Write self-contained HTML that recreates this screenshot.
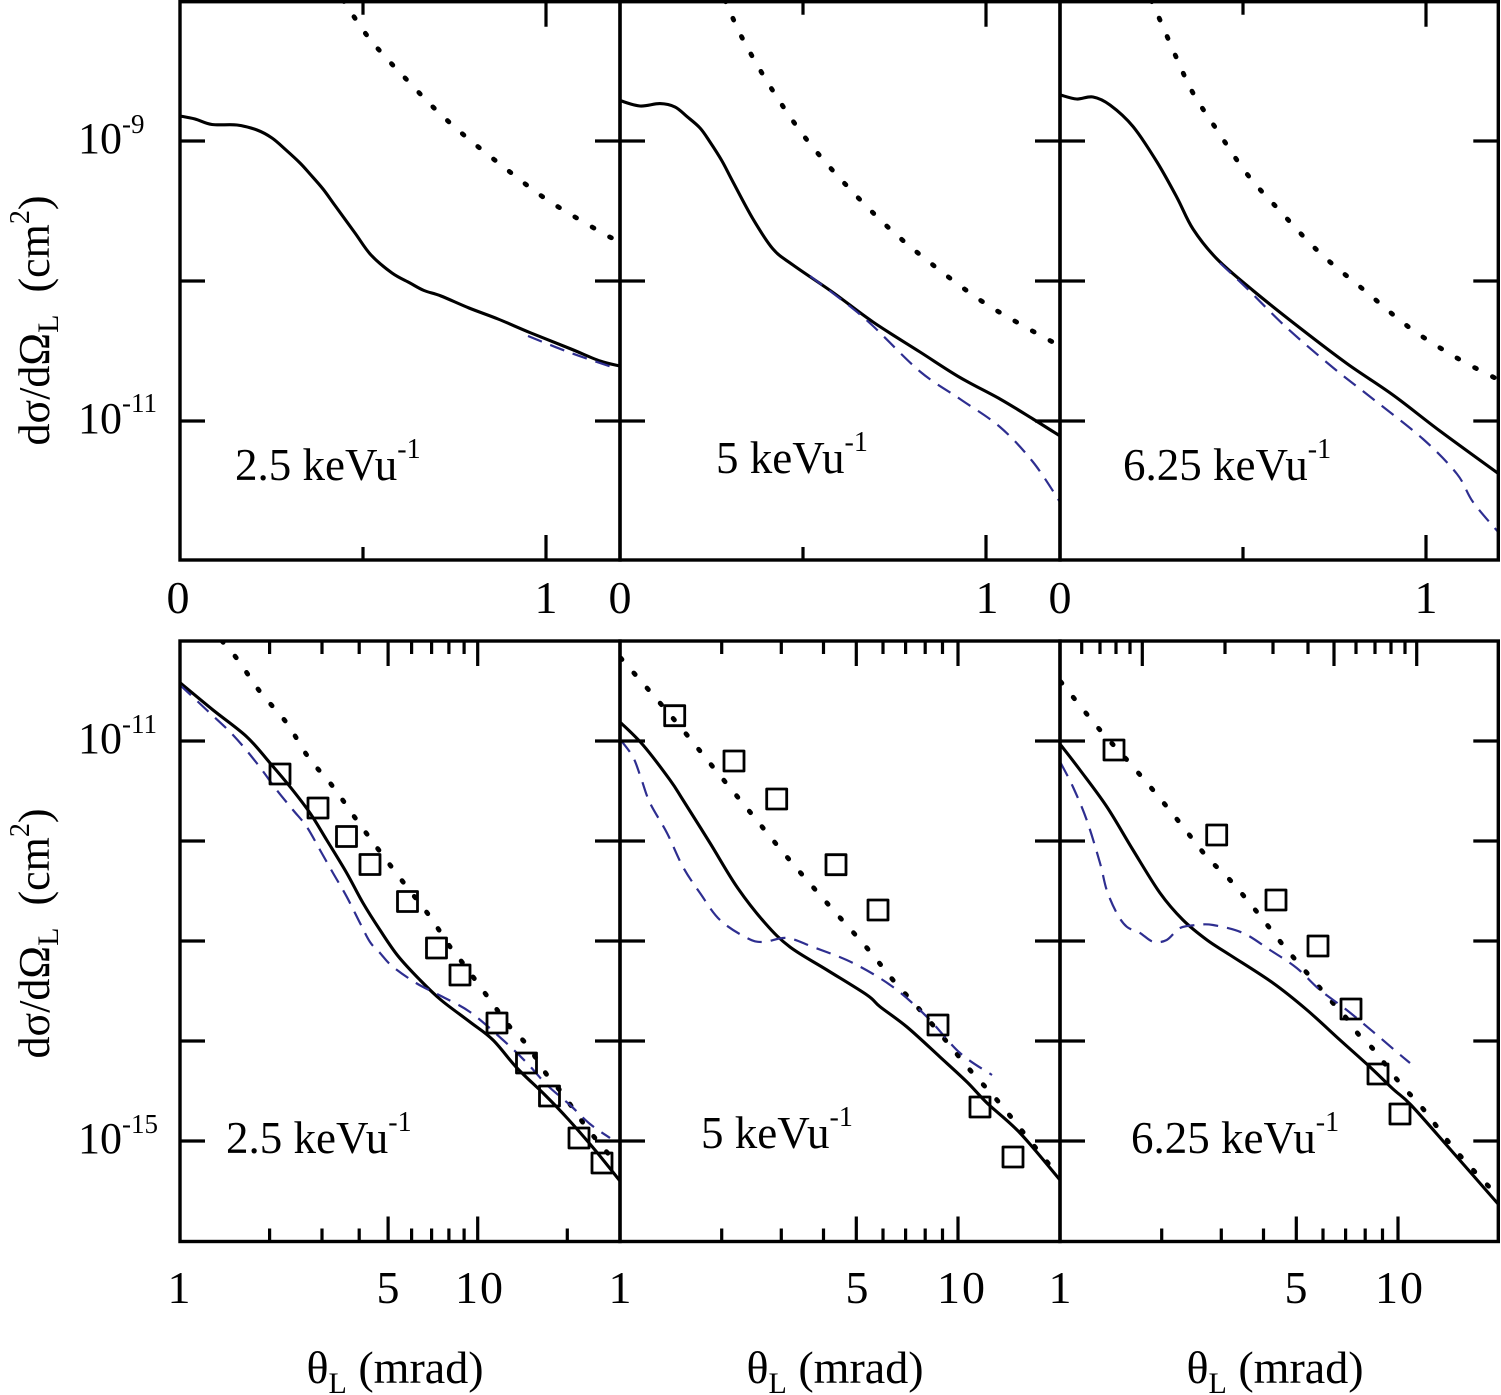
<!DOCTYPE html>
<html>
<head>
<meta charset="utf-8">
<style>
html,body{margin:0;padding:0;background:#fff;}
svg{display:block;}
text{font-family:"Liberation Serif","Times New Roman",serif;fill:#000;}
</style>
</head>
<body>
<svg width="1501" height="1395" viewBox="0 0 1501 1395" xmlns="http://www.w3.org/2000/svg" font-family="'Liberation Serif', 'Times New Roman', serif">
<defs>
<clipPath id="t1"><rect x="180" y="1.5" width="440" height="558.5"/></clipPath>
<clipPath id="t2"><rect x="620" y="1.5" width="440" height="558.5"/></clipPath>
<clipPath id="t3"><rect x="1060" y="1.5" width="438.5" height="558.5"/></clipPath>
<clipPath id="b1"><rect x="180" y="641" width="440" height="600.5"/></clipPath>
<clipPath id="b2"><rect x="620" y="641" width="440" height="600.5"/></clipPath>
<clipPath id="b3"><rect x="1060" y="641" width="438.5" height="600.5"/></clipPath>
</defs>

<!-- ============ CURVES TOP ROW ============ -->
<g fill="none" stroke-linejoin="round">
<g clip-path="url(#t1)">
<path class="sm" d="M180,116 L195,119 L212,124.5 L237,125 L257,130 L272,138 L286,150 L300,163 L310,174 L323,189 L335,205.5 L355,233 L371,255 L392,273 L410,283 L424,290.5 L441,296 L469,308 L498,319 L531,333 L571,349 L600,361 L620,366" stroke="#000" stroke-width="3.1"/>
<path class="sm" d="M343,0 L367,35.5 L390,62 L408,81 L433,107 L465,136 L510,172 L543,197 L575,217 L608,236 L619,241" stroke="#000" stroke-width="4.8" stroke-dasharray="2 18" stroke-linecap="round"/>
<path class="sm" d="M528,336 L571,353 L618,369" stroke="#2e2e90" stroke-width="2.2" stroke-dasharray="15 9"/>
</g>
<g clip-path="url(#t2)">
<path class="sm" d="M620.7,100.8 L640,106 L660,103.6 L675,107 L687,116.6 L700,128 L710,142 L722,161 L733,182 L753,219 L773,249 L793,265 L833,292.5 L873,322 L920,352 L960,377.5 L1000,399 L1033,419 L1060,436" stroke="#000" stroke-width="3.1"/>
<path class="sm" d="M725,0 L743,39.5 L773,91 L807,140 L847,186 L890,229 L933,265 L980,300 L1020,324 L1060,346" stroke="#000" stroke-width="4.8" stroke-dasharray="2 18" stroke-linecap="round"/>
<path class="sm" d="M810,276 L847,304 L873,326 L920,371.5 L960,399 L1000,427 L1033,462 L1060,502" stroke="#2e2e90" stroke-width="2.2" stroke-dasharray="15 9"/>
</g>
<g clip-path="url(#t3)">
<path class="sm" d="M1060.7,95 L1076.7,99 L1093,97 L1110,105 L1133,126.5 L1157,162 L1177,197.6 L1193,229 L1217,259 L1253,290.5 L1300,328 L1347,363.6 L1393,395 L1440,431 L1499,474" stroke="#000" stroke-width="3.1"/>
<path class="sm" d="M1151,0 L1160,20 L1177,59 L1193,93 L1217,130 L1247,174 L1280,211 L1320,253 L1367,292.5 L1410,328 L1457,358 L1499,380" stroke="#000" stroke-width="4.8" stroke-dasharray="2 18" stroke-linecap="round"/>
<path class="sm" d="M1220,263 L1247,288.5 L1287,328 L1333,367.6 L1373,399 L1423,439 L1457,474 L1473,502 L1499,533" stroke="#2e2e90" stroke-width="2.2" stroke-dasharray="15 9"/>
</g>

<!-- ============ CURVES BOTTOM ROW ============ -->
<g clip-path="url(#b1)">
<path class="sm" d="M180,682.7 L213,710 L246.7,736.7 L270,763 L290,786.7 L310,813 L326.7,840 L346.7,873 L363,903 L380,930 L398,956 L420,980 L441,1000 L470,1022 L493,1040 L517,1068 L545,1095 L568,1119 L595,1150 L620,1181" stroke="#000" stroke-width="3.1"/>
<path class="sm" d="M222,641 L238,660 L260,691.7 L286.7,723 L308,756.7 L333,786.7 L356.7,820 L380,851.7 L406.7,886.7 L430,916.7 L450,946.7 L465,966 L490,1000 L510,1027 L527,1045 L547,1075 L562,1093 L584,1124 L605,1150 L620,1166" stroke="#000" stroke-width="4.8" stroke-dasharray="2 18" stroke-linecap="round"/>
<path class="sm" d="M180,685 L206.7,710 L233,735 L256.7,763 L276.7,790 L293,810 L306.7,826.7 L320,850 L333,873 L346.7,896.7 L360,923 L370,942 L380,953 L392,966 L416,983 L441,996 L470,1012 L503,1040 L527,1063 L547,1085 L570,1105 L590,1124 L610,1138" stroke="#2e2e90" stroke-width="2.2" stroke-dasharray="15 9"/>
<g stroke="#000" stroke-width="2.8">
<rect x="270" y="764" width="20" height="20"/>
<rect x="308" y="798" width="20" height="20"/>
<rect x="336.5" y="826.5" width="20" height="20"/>
<rect x="360" y="854.5" width="20" height="20"/>
<rect x="397.5" y="891.5" width="20" height="20"/>
<rect x="426.5" y="938" width="20" height="20"/>
<rect x="450" y="965" width="20" height="20"/>
<rect x="487" y="1013" width="20" height="20"/>
<rect x="516.5" y="1053" width="20" height="20"/>
<rect x="539.5" y="1086" width="20" height="20"/>
<rect x="569" y="1128" width="20" height="20"/>
<rect x="592" y="1153" width="20" height="20"/>
</g>
</g>
<g clip-path="url(#b2)">
<path class="sm" d="M620.7,722.7 L643,745 L670,780 L683,800 L710,843 L737,887 L765,923 L790,947 L827,970 L867,995 L880,1006.7 L907,1027 L940,1057 L967,1082 L987,1103 L1020,1133 L1060,1180" stroke="#000" stroke-width="3.1"/>
<path class="sm" d="M620.7,658 L633,672 L660,703 L687,735 L713,767 L750,812 L787,857 L827,903 L867,948 L893,980 L920,1010 L947,1042 L970,1070 L997,1100 L1023,1132 L1048,1163 L1060,1175" stroke="#000" stroke-width="4.8" stroke-dasharray="2 18" stroke-linecap="round"/>
<path class="sm" d="M620.7,740 L633,757 L641,778 L650,803 L667,833 L683,867 L700,893 L720,920 L747,938 L763,942 L787,938 L813,947 L853,963 L893,987 L927,1017 L960,1053 L992,1075" stroke="#2e2e90" stroke-width="2.2" stroke-dasharray="15 9"/>
<g stroke="#000" stroke-width="2.8">
<rect x="664.7" y="705.7" width="20" height="20"/>
<rect x="724" y="751" width="20" height="20"/>
<rect x="766.7" y="789" width="20" height="20"/>
<rect x="826" y="854.7" width="20" height="20"/>
<rect x="868" y="900" width="20" height="20"/>
<rect x="928" y="1015" width="20" height="20"/>
<rect x="970" y="1097" width="20" height="20"/>
<rect x="1003" y="1147" width="20" height="20"/>
</g>
</g>
<g clip-path="url(#b3)">
<path class="sm" d="M1060.7,745 L1080,770 L1107,807 L1133,850 L1160,893 L1183,920 L1207,940 L1230,955 L1273,983 L1307,1010 L1340,1040 L1370,1067 L1393,1089 L1411,1105 L1450,1149 L1499,1205" stroke="#000" stroke-width="3.1"/>
<path class="sm" d="M1060.7,681.7 L1073,697 L1100,730 L1127,760 L1153,790 L1180,823 L1207,857 L1230,880 L1257,912 L1283,945 L1307,973 L1333,1003 L1348,1020 L1359,1035 L1374,1050 L1399,1082 L1424,1110 L1451,1145 L1476,1173 L1499,1197" stroke="#000" stroke-width="4.8" stroke-dasharray="2 18" stroke-linecap="round"/>
<path class="sm" d="M1060.7,763 L1073,787 L1086.7,820 L1100,863 L1106.7,890 L1116.7,913 L1126.7,926.7 L1140,933 L1153,941.7 L1166.7,940 L1180,928 L1196.7,925 L1213,925 L1243,933 L1270,950 L1296.7,968 L1320,990 L1346.7,1010 L1373,1031.7 L1398,1053 L1410,1063" stroke="#2e2e90" stroke-width="2.2" stroke-dasharray="15 9"/>
<g stroke="#000" stroke-width="2.8">
<rect x="1104" y="740" width="20" height="20"/>
<rect x="1206.7" y="825" width="20" height="20"/>
<rect x="1266" y="890" width="20" height="20"/>
<rect x="1308" y="936" width="20" height="20"/>
<rect x="1341" y="999" width="20" height="20"/>
<rect x="1368" y="1064" width="20" height="20"/>
<rect x="1390" y="1104" width="20" height="20"/>
</g>
</g>
</g>

<!-- ============ FRAMES ============ -->
<g fill="none" stroke="#000" stroke-width="3.4">
<rect x="180" y="1.7" width="440" height="558.3"/>
<rect x="620" y="1.7" width="440" height="558.3"/>
<rect x="1060" y="1.7" width="438.3" height="558.3"/>
<rect x="180" y="641" width="440" height="600.5"/>
<rect x="620" y="641" width="440" height="600.5"/>
<rect x="1060" y="641" width="438.3" height="600.5"/>
</g>

<!-- ============ TICKS ============ -->
<g fill="none" stroke="#000" stroke-width="3.2">
<path d="M180,141 h25 M180,281 h25 M180,421 h25 M620,141 h-25 M620,281 h-25 M620,421 h-25
M620,141 h25 M620,281 h25 M620,421 h25 M1060,141 h-25 M1060,281 h-25 M1060,421 h-25
M1060,141 h25 M1060,281 h25 M1060,421 h25 M1498.3,141 h-25 M1498.3,281 h-25 M1498.3,421 h-25"/>
<path d="M363,560 v-13 M546,560 v-25 M363,1.7 v13 M546,1.7 v25
M803,560 v-13 M986,560 v-25 M803,1.7 v13 M986,1.7 v25
M1243,560 v-13 M1426,560 v-25 M1243,1.7 v13 M1426,1.7 v25"/>
<path d="M180,741 h25 M180,841 h25 M180,941 h25 M180,1041 h25 M180,1141 h25
M620,741 h-25 M620,841 h-25 M620,941 h-25 M620,1041 h-25 M620,1141 h-25
M620,741 h25 M620,841 h25 M620,941 h25 M620,1041 h25 M620,1141 h25
M1060,741 h-25 M1060,841 h-25 M1060,941 h-25 M1060,1041 h-25 M1060,1141 h-25
M1060,741 h25 M1060,841 h25 M1060,941 h25 M1060,1041 h25 M1060,1141 h25
M1498.3,741 h-25 M1498.3,841 h-25 M1498.3,941 h-25 M1498.3,1041 h-25 M1498.3,1141 h-25"/>
<path d="M269.6,1241.5 v-13 M322,1241.5 v-13 M359.2,1241.5 v-13 M388.1,1241.5 v-25 M411.6,1241.5 v-13 M431.6,1241.5 v-13 M448.9,1241.5 v-13 M464.1,1241.5 v-13 M477.7,1241.5 v-25 M567.3,1241.5 v-13
M269.6,641 v13 M322,641 v13 M359.2,641 v13 M388.1,641 v25 M411.6,641 v13 M431.6,641 v13 M448.9,641 v13 M464.1,641 v13 M477.7,641 v25"/>
<path d="M721.7,1241.5 v-13 M781.3,1241.5 v-13 M823.5,1241.5 v-13 M856.3,1241.5 v-25 M883,1241.5 v-13 M905.6,1241.5 v-13 M925.2,1241.5 v-13 M942.5,1241.5 v-13 M958,1241.5 v-25
M721.7,641 v13 M781.3,641 v13 M823.5,641 v13 M856.3,641 v25 M883,641 v13 M905.6,641 v13 M925.2,641 v13 M942.5,641 v13 M958,641 v25"/>
<path d="M1161.7,1241.5 v-13 M1221.3,1241.5 v-13 M1263.5,1241.5 v-13 M1296.3,1241.5 v-25 M1323,1241.5 v-13 M1345.6,1241.5 v-13 M1365.2,1241.5 v-13 M1382.5,1241.5 v-13 M1398,1241.5 v-25
M1081.7,641 v13 M1100,641 v13 M1116,641 v13 M1130,641 v13 M1142.3,641 v25 M1225,641 v13 M1273,641 v13 M1308,641 v13 M1334,641 v25 M1356,641 v13 M1375,641 v13 M1391,641 v13 M1405,641 v13 M1416.7,641 v25"/>
</g>

<!-- ============ Y TICK LABELS ============ -->
<g font-size="44">
<text x="78" y="153">10<tspan font-size="27" dy="-20">-9</tspan></text>
<text x="78" y="433">10<tspan font-size="27" dy="-21">-11</tspan></text>
<text x="78" y="753">10<tspan font-size="27" dy="-20">-11</tspan></text>
<text x="78" y="1153">10<tspan font-size="27" dy="-20">-15</tspan></text>
</g>

<!-- ============ X TICK LABELS ============ -->
<g font-size="46" text-anchor="middle">
<text x="178" y="613">0</text>
<text x="546" y="613">1</text>
<text x="620" y="613">0</text>
<text x="987" y="613">1</text>
<text x="1060" y="613">0</text>
<text x="1426" y="613">1</text>

<text x="179" y="1303">1</text>
<text x="388" y="1303">5</text>
<text x="480" y="1303" letter-spacing="2">10</text>
<text x="620" y="1303">1</text>
<text x="857" y="1303">5</text>
<text x="962" y="1303" letter-spacing="2">10</text>
<text x="1060" y="1303">1</text>
<text x="1296" y="1303">5</text>
<text x="1400" y="1303" letter-spacing="2">10</text>
</g>

<!-- ============ AXIS TITLES ============ -->
<g font-size="46" text-anchor="middle">
<text x="395" y="1383">θ<tspan font-size="30" dy="10">L</tspan><tspan dy="-10">&#160;(mrad)</tspan></text>
<text x="835" y="1383">θ<tspan font-size="30" dy="10">L</tspan><tspan dy="-10">&#160;(mrad)</tspan></text>
<text x="1275" y="1383">θ<tspan font-size="30" dy="10">L</tspan><tspan dy="-10">&#160;(mrad)</tspan></text>
</g>
<g font-size="44" text-anchor="middle">
<text transform="translate(49,320.5) rotate(-90)">dσ/dΩ<tspan font-size="30" dy="9">L</tspan><tspan dy="-9">&#160;&#160;(cm</tspan><tspan font-size="28" dy="-20">2</tspan><tspan dy="20">)</tspan></text>
<text transform="translate(49,933.5) rotate(-90)">dσ/dΩ<tspan font-size="30" dy="9">L</tspan><tspan dy="-9">&#160;&#160;(cm</tspan><tspan font-size="28" dy="-20">2</tspan><tspan dy="20">)</tspan></text>
</g>

<!-- ============ ENERGY LABELS ============ -->
<g font-size="45">
<text x="235" y="480">2.5 keVu<tspan font-size="28" dy="-22">-1</tspan></text>
<text x="716" y="473">5 keVu<tspan font-size="28" dy="-22">-1</tspan></text>
<text x="1123" y="480">6.25 keVu<tspan font-size="28" dy="-22">-1</tspan></text>
<text x="226" y="1153">2.5 keVu<tspan font-size="28" dy="-22">-1</tspan></text>
<text x="701" y="1148">5 keVu<tspan font-size="28" dy="-22">-1</tspan></text>
<text x="1131" y="1153">6.25 keVu<tspan font-size="28" dy="-22">-1</tspan></text>
</g>
</svg>
<script>
(function(){
  var paths = document.querySelectorAll('path.sm');
  for (var k = 0; k < paths.length; k++) {
    var p = paths[k];
    var nums = p.getAttribute('d').match(/-?\d+(\.\d+)?/g);
    if (!nums || nums.length < 6) continue;
    var pts = [];
    for (var i = 0; i + 1 < nums.length; i += 2) pts.push([+nums[i], +nums[i+1]]);
    var d = 'M' + pts[0][0] + ',' + pts[0][1];
    for (var j = 0; j < pts.length - 1; j++) {
      var p0 = pts[j-1] || pts[j], p1 = pts[j], p2 = pts[j+1], p3 = pts[j+2] || pts[j+1];
      var c1x = p1[0] + (p2[0]-p0[0])/6, c1y = p1[1] + (p2[1]-p0[1])/6;
      var c2x = p2[0] - (p3[0]-p1[0])/6, c2y = p2[1] - (p3[1]-p1[1])/6;
      d += ' C' + c1x.toFixed(2) + ',' + c1y.toFixed(2) + ' ' + c2x.toFixed(2) + ',' + c2y.toFixed(2) + ' ' + p2[0] + ',' + p2[1];
    }
    p.setAttribute('d', d);
  }
})();
</script>
</body>
</html>
